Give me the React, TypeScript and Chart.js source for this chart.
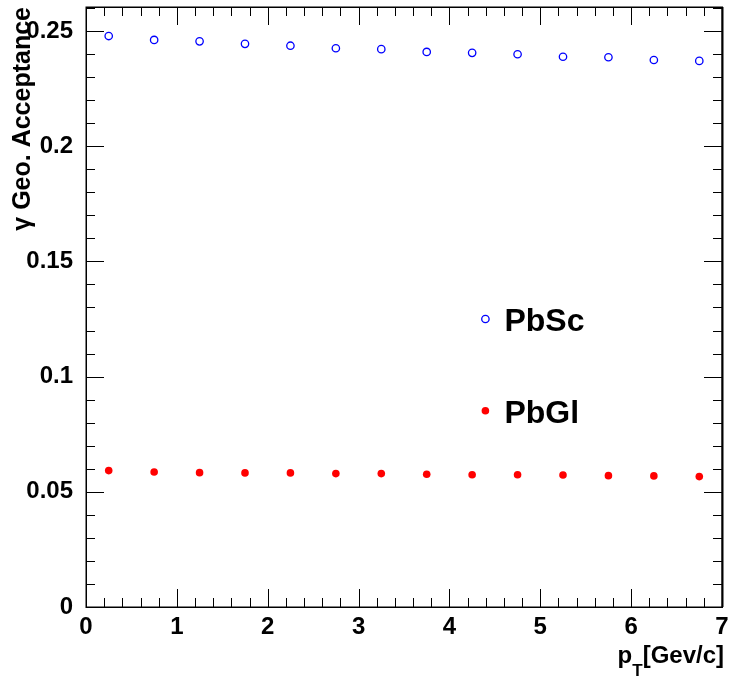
import React, { useEffect, useRef } from 'react';
import { Chart, registerables } from 'chart.js';

Chart.register(...registerables);

// ---- data ----
const ptBins = [0.25, 0.75, 1.25, 1.75, 2.25, 2.75, 3.25, 3.75, 4.25, 4.75, 5.25, 5.75, 6.25, 6.75];
const pbscAcceptance = [0.2478, 0.2461, 0.2455, 0.2444, 0.2436, 0.2425, 0.2421, 0.2409, 0.2405, 0.2399, 0.2388, 0.2386, 0.2374, 0.2370];
const pbglAcceptance = [0.0592, 0.0586, 0.0583, 0.0582, 0.0582, 0.0579, 0.0579, 0.0576, 0.0574, 0.0574, 0.0573, 0.0570, 0.0569, 0.0566];
const xTickLabels = ['0', '1', '2', '3', '4', '5', '6', '7'];
const yTickLabels = ['0', '0.05', '0.1', '0.15', '0.2', '0.25'];
const seriesNames = ['PbSc', 'PbGl'];

const FONT = '"Liberation Sans", Arial, Helvetica, sans-serif';

const isMultiple = (v: number, step: number) => Math.abs(v / step - Math.round(v / step)) < 1e-6;

const frameTicks = {
  id: 'frameTicks',
  afterDraw(chart: any) {
    const { ctx, chartArea: a, scales } = chart;
    const x = scales.x;
    const y = scales.y;
    ctx.save();
    ctx.strokeStyle = '#000';
    ctx.lineWidth = 1;
    ctx.beginPath();
    x.ticks.forEach((t: any) => {
      const px = Math.round(x.getPixelForValue(t.value)) + 0.5;
      const len = isMultiple(t.value, 1) ? 18 : 9;
      ctx.moveTo(px, a.bottom);
      ctx.lineTo(px, a.bottom - len);
      ctx.moveTo(px, a.top);
      ctx.lineTo(px, a.top + len);
    });
    y.ticks.forEach((t: any) => {
      const py = Math.round(y.getPixelForValue(t.value)) + 0.5;
      const len = isMultiple(t.value, 0.05) ? 18 : 9;
      ctx.moveTo(a.left, py);
      ctx.lineTo(a.left + len, py);
      ctx.moveTo(a.right, py);
      ctx.lineTo(a.right - len, py);
    });
    ctx.stroke();
    // frame
    ctx.lineWidth = 1.5;
    ctx.strokeRect(Math.round(a.left) + 0.25, Math.round(a.top) + 0.25, Math.round(a.right - a.left), Math.round(a.bottom - a.top));
    ctx.lineWidth = 2;
    ctx.beginPath();
    ctx.moveTo(Math.round(a.right) + 0.5, a.top);
    ctx.lineTo(Math.round(a.right) + 0.5, a.bottom);
    ctx.stroke();

    // x-axis title with subscript
    const mainFont = `bold 24px ${FONT}`;
    const subFont = `bold 17px ${FONT}`;
    ctx.fillStyle = '#000';
    ctx.textBaseline = 'alphabetic';
    ctx.textAlign = 'left';
    ctx.font = mainFont;
    const wp = ctx.measureText('p').width;
    const wr = ctx.measureText('[Gev/c]').width;
    ctx.font = subFont;
    const wt = ctx.measureText('T').width;
    const total = wp + wt + wr;
    let sx = a.right + 2 - total;
    const base = a.bottom + 56;
    ctx.font = mainFont;
    ctx.fillText('p', sx, base);
    sx += wp;
    ctx.font = subFont;
    ctx.fillText('T', sx, base + 13);
    sx += wt;
    ctx.font = mainFont;
    ctx.fillText('[Gev/c]', sx, base);

    // legend
    const entries = chart.data.datasets;
    const lx = a.left + (a.right - a.left) * 0.628;
    const lys = [a.top + (a.bottom - a.top) * 0.52, a.top + (a.bottom - a.top) * 0.673];
    entries.forEach((ds: any, i: number) => {
      const ly = lys[i];
      ctx.beginPath();
      ctx.arc(lx, ly, ds.pointRadius, 0, Math.PI * 2);
      if (ds.pointBackgroundColor && ds.pointBackgroundColor !== 'rgba(0,0,0,0)') {
        ctx.fillStyle = ds.pointBackgroundColor;
        ctx.fill();
      }
      if (ds.pointBorderWidth > 0) {
        ctx.strokeStyle = ds.pointBorderColor;
        ctx.lineWidth = ds.pointBorderWidth;
        ctx.stroke();
      }
      ctx.fillStyle = '#000';
      ctx.font = `bold 32px ${FONT}`;
      ctx.textBaseline = 'alphabetic';
      ctx.fillText(ds.label, lx + 19, ly + 12);
    });
    ctx.restore();
  },
};

export default function App() {
  const ref = useRef<HTMLCanvasElement>(null);
  useEffect(() => {
    if (!ref.current) return;
    const chart = new Chart(ref.current, {
      type: 'scatter',
      data: {
        datasets: [
          {
            label: seriesNames[0],
            data: ptBins.map((x, i) => ({ x, y: pbscAcceptance[i] })),
            pointStyle: 'circle',
            pointRadius: 3.7,
            pointBackgroundColor: 'rgba(0,0,0,0)',
            pointBorderColor: '#0000ff',
            pointBorderWidth: 1.3,
            showLine: false,
          } as any,
          {
            label: seriesNames[1],
            data: ptBins.map((x, i) => ({ x, y: pbglAcceptance[i] })),
            pointStyle: 'circle',
            pointRadius: 3.8,
            pointBackgroundColor: '#ff0000',
            pointBorderColor: '#ff0000',
            pointBorderWidth: 0,
            showLine: false,
          } as any,
        ],
      },
      options: {
        responsive: false,
        animation: false,
        devicePixelRatio: 1,
        layout: { padding: { top: 7, right: 7, left: 0, bottom: 0 } },
        plugins: {
          legend: { display: false },
          tooltip: { enabled: false },
          title: { display: false },
        },
        scales: {
          x: {
            type: 'linear',
            min: 0,
            max: 7,
            grid: { display: false },
            border: { display: false },
            ticks: {
              stepSize: 0.2,
              autoSkip: false,
              maxRotation: 0,
              minRotation: 0,
              padding: -2,
              color: '#000',
              font: { family: FONT, size: 24, weight: 'bold' },
              callback: (v: any) => (isMultiple(Number(v), 1) ? xTickLabels[Math.round(Number(v))] : ''),
            },
            afterFit: (s: any) => {
              s.height = 72;
              s.paddingLeft = 0;
              s.paddingRight = 0;
            },
          },
          y: {
            type: 'linear',
            min: 0,
            max: 0.2604,
            grid: { display: false },
            border: { display: false },
            title: {
              display: true,
              text: 'γ Geo. Acceptance',
              align: 'end',
              color: '#000',
              font: { family: FONT, size: 25, weight: 'bold' },
              padding: { top: 8, bottom: 0 },
            },
            ticks: {
              stepSize: 0.01,
              includeBounds: false,
              autoSkip: false,
              padding: 5,
              color: '#000',
              font: { family: FONT, size: 24, weight: 'bold' },
              callback: (v: any) => (isMultiple(Number(v), 0.05) ? yTickLabels[Math.round(Number(v) / 0.05)] : ''),
            },
            afterFit: (s: any) => {
              s.width = 86;
              s.paddingTop = 0;
              s.paddingBottom = 0;
            },
          },
        },
      } as any,
      plugins: [frameTicks],
    });
    return () => chart.destroy();
  }, []);
  return (
    <div style={{ position: 'fixed', left: 0, top: 0, width: 729, height: 679, background: '#fff' }}>
      <canvas ref={ref} width={729} height={679} style={{ display: 'block' }} />
    </div>
  );
}
